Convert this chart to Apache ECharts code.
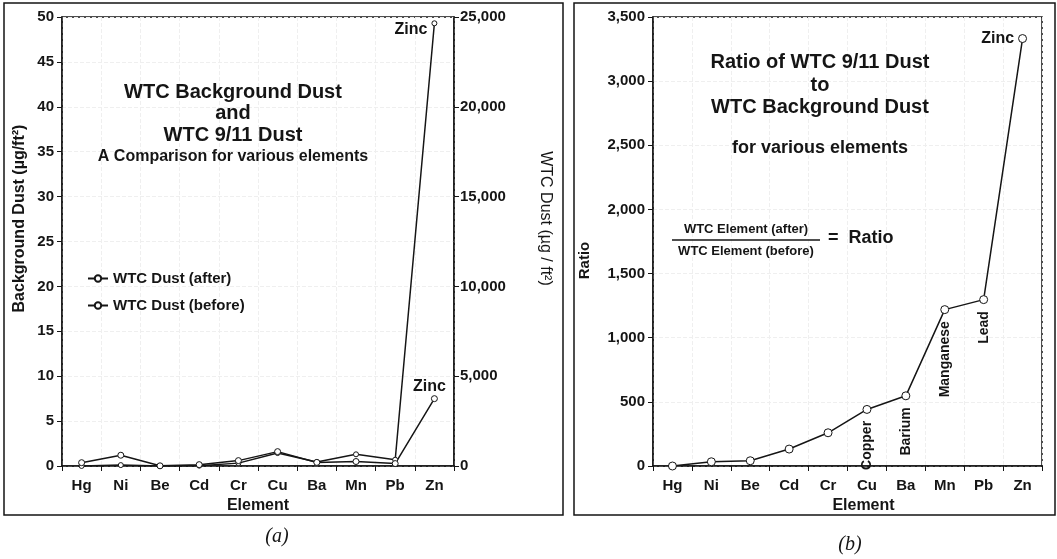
<!DOCTYPE html>
<html><head><meta charset="utf-8">
<script src="https://cdn.jsdelivr.net/npm/echarts@6/dist/echarts.min.js"></script>
<style>html,body{margin:0;padding:0;background:#fff}#c{width:1057px;height:559px}</style>
</head><body><div id="c"></div>
<script>
// ---- data ----
const elements = ['Hg','Ni','Be','Cd','Cr','Cu','Ba','Mn','Pb','Zn'];
const dustBefore = [0.37, 1.2, 0.02, 0.15, 0.6, 1.6, 0.4, 0.5, 0.27, 7.5];      // Background dust, µg/ft² (left axis)
const dustAfter  = [2, 50, 1, 20, 160, 720, 220, 650, 350, 24650];              // WTC 9/11 dust, µg/ft² (right axis)
const ratio      = [0, 33, 41, 132, 259, 441, 547, 1219, 1297, 3332];           // after / before
const ratioNotes = ['', '', '', '', '', 'Copper', 'Barium', 'Manganese', 'Lead', ''];
const bgAxis  = {min: 0, max: 50, interval: 5};
const wtcAxis = {min: 0, max: 25000, interval: 5000};
const ratioAxis = {min: 0, max: 3500, interval: 500};

const FONT = '"Liberation Sans", Arial, sans-serif';
const INK = '#151515';
const GRID = '#efefef';
const fmt = v => Number(v).toLocaleString('en-US');

const chart = echarts.init(document.getElementById('c'), null, {renderer: 'canvas'});

function catAxis(gi, namePad) {
  return {
    type: 'category', gridIndex: gi, data: elements, boundaryGap: true,
    name: 'Element', nameLocation: 'middle', nameGap: 32,
    nameTextStyle: {fontFamily: FONT, fontWeight: 'bold', fontSize: 16, color: INK, padding: namePad},
    axisLine: {lineStyle: {color: INK, width: 1.5}},
    axisTick: {show: true, length: 5, lineStyle: {color: INK}},
    axisLabel: {fontFamily: FONT, fontWeight: 'bold', fontSize: 15, color: INK, margin: 12},
    splitLine: {show: true, lineStyle: {color: GRID, type: 'dashed'}}
  };
}
function valAxis(gi, spec, extra) {
  return Object.assign({
    type: 'value', gridIndex: gi, min: spec.min, max: spec.max, interval: spec.interval,
    axisLine: {show: true, lineStyle: {color: INK, width: 1.5}},
    axisTick: {show: true, length: 5, lineStyle: {color: INK}},
    axisLabel: {fontFamily: FONT, fontWeight: 'bold', fontSize: 15, color: INK, margin: 8, formatter: fmt},
    splitLine: {show: true, lineStyle: {color: GRID, type: 'dashed'}}
  }, extra);
}

const lineStyleCommon = {color: INK, width: 1.5};
const itemStyleCommon = {color: '#fff', borderColor: INK, borderWidth: 1};

const afterData = dustAfter.map((v, i) => i === elements.length - 1
  ? {value: v, label: {show: true, formatter: 'Zinc', position: 'left', distance: 4, offset: [0, 6]}}
  : v);
const beforeData = dustBefore.map((v, i) => i === elements.length - 1
  ? {value: v, label: {show: true, formatter: 'Zinc', position: 'top', distance: 1, offset: [-5, 0]}}
  : v);
const ratioData = ratio.map((v, i) => {
  if (i === elements.length - 1) return {value: v, label: {show: true, formatter: 'Zinc', position: 'left', distance: 4}};
  if (ratioNotes[i]) return {value: v, label: {show: true, formatter: ratioNotes[i], position: 'bottom',
    rotate: 90, align: 'right', verticalAlign: 'middle', distance: 7, fontSize: 14}};
  return v;
});
const labelStyle = {fontFamily: FONT, fontWeight: 'bold', fontSize: 16, color: INK};

const T = (text, x, y, size, align) => ({type: 'text', x, y, z: 100,
  style: {text, font: 'bold ' + size + 'px ' + FONT, fill: INK, textAlign: align || 'center', textVerticalAlign: 'middle'}});

const option = {
  backgroundColor: '#fff',
  animation: false,
  grid: [
    {left: 62, top: 17, width: 392, height: 449, show: true, borderColor: INK, borderWidth: 1.5, backgroundColor: 'transparent'},
    {left: 653, top: 17, width: 389, height: 449, show: true, borderColor: INK, borderWidth: 1.5, backgroundColor: 'transparent'}
  ],
  xAxis: [catAxis(0, [0, 0, 0, 0]), catAxis(1, [0, 0, 0, 32])],
  yAxis: [
    valAxis(0, bgAxis, {name: 'Background Dust (µg/ft²)', nameLocation: 'middle', nameGap: 34,
      nameTextStyle: {fontFamily: FONT, fontWeight: 'bold', fontSize: 16, color: INK, padding: [0, 0, 0, 46]}}),
    valAxis(0, wtcAxis, {position: 'right', name: 'WTC Dust (µg / ft²)', nameLocation: 'middle', nameGap: 83,
      nameRotate: -90, splitLine: {show: false},
      axisLabel: {fontFamily: FONT, fontWeight: 'bold', fontSize: 15, color: INK, margin: 6, formatter: fmt},
      nameTextStyle: {fontFamily: FONT, fontSize: 16, color: INK, padding: [0, 46, 0, 0]}}),
    valAxis(1, ratioAxis, {name: 'Ratio', nameLocation: 'middle', nameGap: 61,
      nameTextStyle: {fontFamily: FONT, fontWeight: 'bold', fontSize: 15, color: INK, padding: [0, 38, 0, 0]}})
  ],
  legend: {
    orient: 'vertical', left: 82, top: 266, itemGap: 12, itemWidth: 20, itemHeight: 8,
    textStyle: {fontFamily: FONT, fontWeight: 'bold', fontSize: 15, color: INK},
    data: ['WTC Dust (after)', 'WTC Dust (before)']
  },
  series: [
    {name: 'WTC Dust (after)', type: 'line', xAxisIndex: 0, yAxisIndex: 1, data: afterData,
      symbol: 'circle', symbolSize: 5, lineStyle: lineStyleCommon, itemStyle: itemStyleCommon, label: labelStyle, z: 3},
    {name: 'WTC Dust (before)', type: 'line', xAxisIndex: 0, yAxisIndex: 0, data: beforeData,
      symbol: 'circle', symbolSize: 6, lineStyle: lineStyleCommon, itemStyle: itemStyleCommon, label: labelStyle, z: 3},
    {name: 'Ratio', type: 'line', xAxisIndex: 1, yAxisIndex: 2, data: ratioData,
      symbol: 'circle', symbolSize: 8, lineStyle: lineStyleCommon, itemStyle: itemStyleCommon, label: labelStyle, z: 3}
  ],
  graphic: [
    {type: 'rect', shape: {x: 4, y: 3, width: 559, height: 512}, style: {fill: 'none', stroke: INK, lineWidth: 1.5}, z: -1},
    {type: 'rect', shape: {x: 574, y: 3, width: 481, height: 512}, style: {fill: 'none', stroke: INK, lineWidth: 1.5}, z: -1},
    T('WTC Background Dust', 233, 92, 20),
    T('and', 233, 113, 20),
    T('WTC 9/11 Dust', 233, 135, 20),
    T('A Comparison for various elements', 233, 157, 16),
    T('Ratio of WTC 9/11 Dust', 820, 62, 20),
    T('to', 820, 85, 20),
    T('WTC Background Dust', 820, 107, 20),
    T('for various elements', 820, 148, 18),
    T('WTC Element (after)', 746, 229, 13),
    {type: 'line', z: 100, shape: {x1: 672, y1: 240, x2: 820, y2: 240}, style: {stroke: INK, lineWidth: 1.5}},
    T('WTC Element (before)', 746, 251, 13),
    T('=  Ratio', 828, 238, 18, 'left'),
    {type: 'text', x: 277, y: 537, z: 100, style: {text: '(a)', font: 'italic 20px "Liberation Serif", "DejaVu Serif", serif', fill: INK, textAlign: 'center', textVerticalAlign: 'middle'}},
    {type: 'text', x: 850, y: 545, z: 100, style: {text: '(b)', font: 'italic 20px "Liberation Serif", "DejaVu Serif", serif', fill: INK, textAlign: 'center', textVerticalAlign: 'middle'}}
  ]
};
chart.setOption(option);
</script></body></html>
